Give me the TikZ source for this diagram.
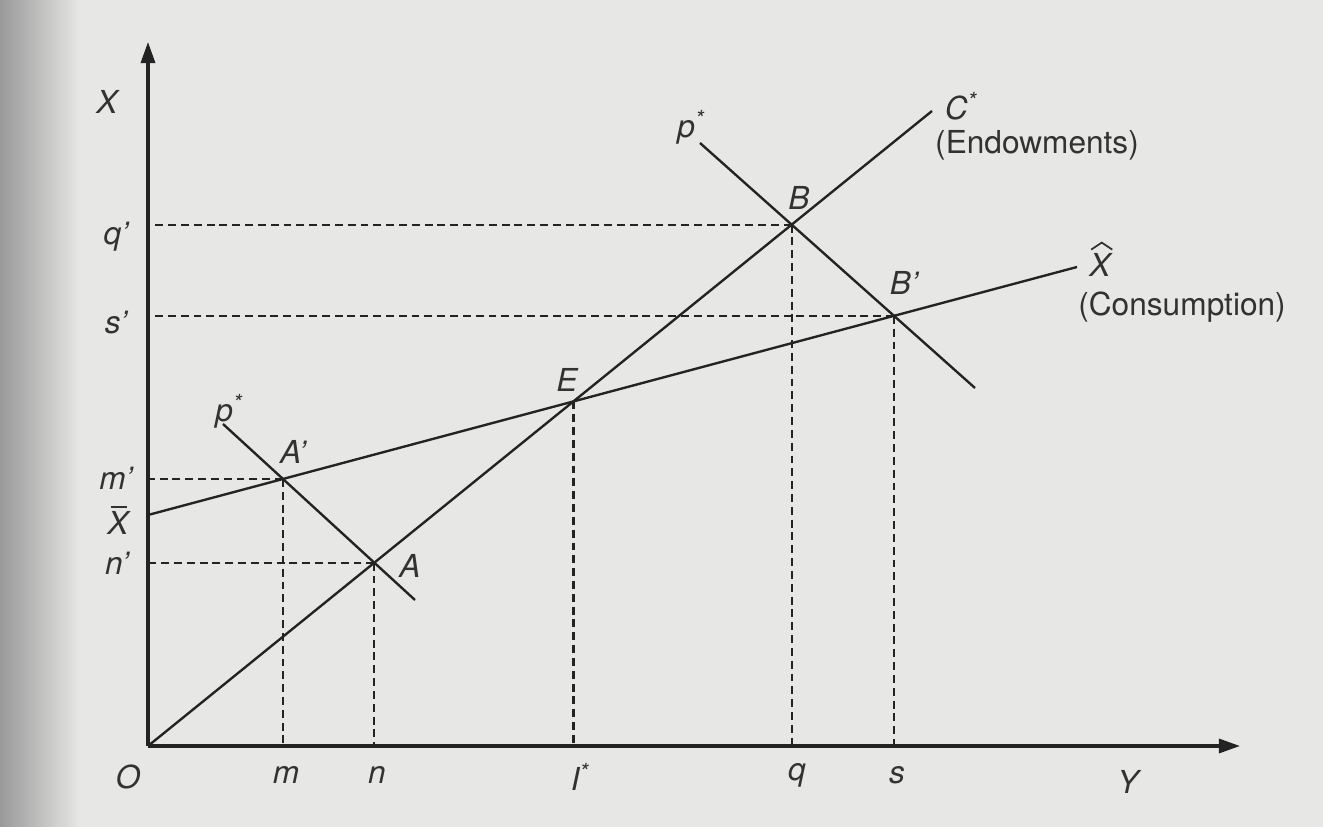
\documentclass[tikz,border=0pt]{standalone}
\usepackage{fontspec}
\setmainfont{TeX Gyre Heros}
\usetikzlibrary{arrows.meta}
\definecolor{bgc}{RGB}{231,231,229}
\definecolor{ink}{RGB}{35,35,35}
\definecolor{txt}{RGB}{50,50,50}
\begin{document}
\begin{tikzpicture}[x=0.02cm,y=-0.02cm,
  axis/.style={draw=ink, line width=1.8pt, -{Triangle[length=12pt,width=8pt]}},
  curve/.style={draw=ink, line width=1.35pt},
  guide/.style={draw=ink, line width=1.25pt, dash pattern=on 4.5pt off 2.8pt},
  accent/.style={draw=txt, line width=1pt},
  lab/.style={font=\fontsize{18}{20}\selectfont\itshape, text=txt, inner sep=0pt},
  note/.style={font=\fontsize{18}{20}\selectfont, text=txt, inner sep=0pt}]
% background (scanned page)
\fill[bgc] (0,0) rectangle (1323,827);
\shade[left color=black!40, right color=bgc] (0,0) rectangle (80,827);
\useasboundingbox (0,0) rectangle (1323,827);

% key points
\coordinate (O) at (148,746);
\coordinate (Ytip) at (1240,746);
\coordinate (Xtip) at (148,42);
\coordinate (Xbar) at (148,515);
\coordinate (Xhend) at (1077,267);
\coordinate (Cend) at (932,111);
\coordinate (P1s) at (223,424);
\coordinate (P1e) at (415,600);
\coordinate (P2s) at (700,143);
\coordinate (P2e) at (975,388);
\coordinate (E) at (intersection of O--Cend and Xbar--Xhend);
\coordinate (A) at (intersection of O--Cend and P1s--P1e);
\coordinate (Ap) at (intersection of Xbar--Xhend and P1s--P1e);
\coordinate (B) at (intersection of O--Cend and P2s--P2e);
\coordinate (Bp) at (intersection of Xbar--Xhend and P2s--P2e);

% dashed guides
\foreach \p in {B,Bp,Ap,A}{\draw[guide] (\p) -- (O |- \p);}
\foreach \p in {B,Bp,Ap,A,E}{\draw[guide] (\p) -- (\p |- O);}

% axes
\draw[axis] (O) -- (Xtip);
\draw[axis] (O) -- (Ytip);

% lines
\draw[curve] (O) -- (Cend);
\draw[curve] (Xbar) -- (Xhend);
\draw[curve] (P1s) -- (P1e);
\draw[curve] (P2s) -- (P2e);

% axis labels
\node[lab] (lX) at (107,102) {X};
\node[lab] (lY) at (1128,782) {Y};
\node[lab] (lO) at (128,777) {O};
\node[lab] (lqp) at (116,237) {q'};
\node[lab] (lsp) at (116,323) {s'};
\node[lab] (lmp) at (116,478) {m'};
\node[lab] (lXb) at (118,523) {X};
\draw[accent] ([xshift=-4pt,yshift=2.5pt]lXb.north) -- ([xshift=5pt,yshift=2.5pt]lXb.north);
\node[lab] (lnp) at (117,563) {n'};
\node[lab] (lm) at (286,775) {m};
\node[lab] (ln) at (377,775) {n};
\node[lab] (lI) at (580,777) {I\textsuperscript{*}};
\node[lab] (lq) at (797,775) {q};
\node[lab] (ls) at (897,775) {s};

% point labels
\node[lab] (lA) at (410,566) {A};
\node[lab] (lAp) at (293,452) {A'};
\node[lab] (lE) at (567,380) {E};
\node[lab] (lB) at (799,198) {B};
\node[lab] (lBp) at (904,283) {B'};
\node[lab] (lp1) at (229,411) {p\textsuperscript{*}};
\node[lab] (lp2) at (691,127) {p\textsuperscript{*}};
\node[lab] (lC) at (961,106) {C\textsuperscript{*}};
\node[note] (lEnd) at (1037,145) {(Endowments)};
\node[lab] (lXh) at (1100,265) {X};
\draw[accent] ([xshift=-5pt,yshift=2pt]lXh.north) -- ([xshift=1pt,yshift=6pt]lXh.north) -- ([xshift=7pt,yshift=2pt]lXh.north);
\node[note] (lCon) at (1182,307) {(Consumption)};
\end{tikzpicture}
\end{document}
